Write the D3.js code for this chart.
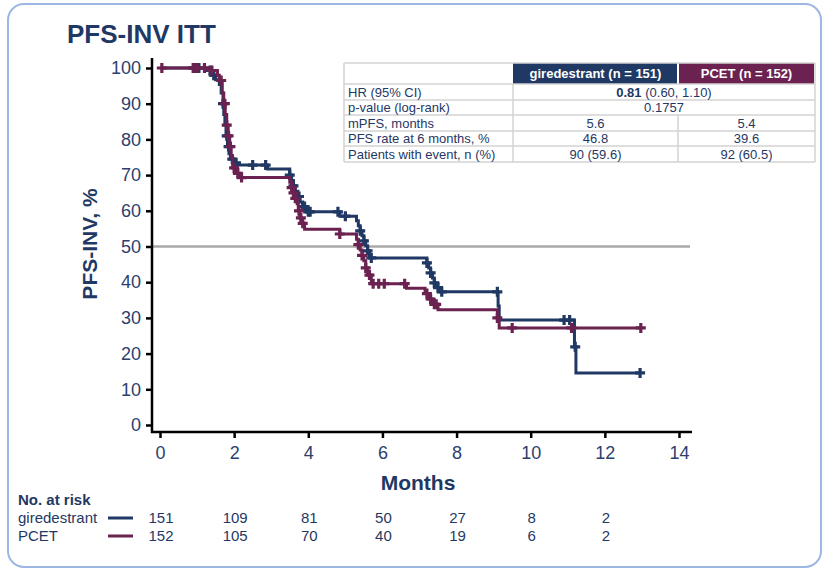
<!DOCTYPE html>
<html>
<head>
<meta charset="utf-8">
<script src="https://cdn.jsdelivr.net/npm/d3@7"></script>
<style>
  body { margin: 0; background: #fff; }
  svg { display: block; font-family: "Liberation Sans", Arial, sans-serif; }
</style>
</head>
<body>
<script>
// PFS-INV ITT Kaplan-Meier chart

// step points [months, % event-free]
var giredSteps = [[0,100],[1.25,99.3],[1.4,98],[1.5,96.7],[1.6,95.4],[1.65,93],[1.7,90],[1.72,87],[1.75,84],
  [1.78,81],[1.82,78],[1.86,76],[1.9,74.5],[2.0,73.4],[2.1,72.8],[2.9,71.7],[3.5,70],[3.55,68.5],[3.6,67],
  [3.65,65.5],[3.72,64],[3.78,62.5],[3.85,61.2],[3.95,59.7],[4.85,58.5],[5.3,57.2],[5.35,55.8],[5.4,54.4],
  [5.45,53],[5.5,51.6],[5.55,50.2],[5.6,48.8],[5.65,46.8],[7.2,45.4],[7.25,44],[7.3,42.6],[7.35,41.2],
  [7.4,39.8],[7.45,38.5],[7.55,37.3],[9.12,33.3],[9.15,29.4],[11.18,21.9],[11.22,14.6],[12.95,14.6]];
var pcetSteps = [[0,100],[1.3,99.3],[1.55,98],[1.6,96.5],[1.68,93],[1.72,90],[1.76,87],[1.8,84],[1.84,81],
  [1.88,78],[1.92,75],[1.96,72],[2.05,70.5],[2.15,69.3],[3.5,68],[3.55,66.5],[3.6,65],[3.65,63.5],[3.7,62],
  [3.73,60],[3.77,58],[3.82,56.5],[3.9,54.8],[4.85,53.5],[5.3,52],[5.35,50.5],[5.4,49],[5.45,47.5],[5.5,46],
  [5.55,44],[5.6,42],[5.7,39.6],[6.65,38.3],[7.15,36.8],[7.25,35.3],[7.35,33.8],[7.5,32.3],[9.1,30],
  [9.15,27.2],[12.97,27.2]];

// censor times (months)
var giredCensor = [0.9,1.0,1.05,1.35,1.45,1.7,1.8,1.85,1.95,2.05,2.5,2.85,3.5,3.6,3.75,3.85,3.9,4.0,4.05,
  4.8,5.0,5.4,5.5,5.6,5.7,7.2,7.3,7.4,7.5,7.6,9.1,10.9,11.05,11.2,12.95];
var pcetCensor = [0.05,0.9,0.95,1.0,1.2,1.4,1.65,1.75,1.8,1.85,1.9,2.0,2.1,2.2,3.55,3.6,3.65,3.75,3.8,3.85,
  4.85,5.35,5.45,5.55,5.65,5.75,5.9,6.05,6.6,7.2,7.3,7.4,7.45,9.1,9.5,11.1,12.97];

var xTicks = [0,2,4,6,8,10,12,14];
var yTicks = [0,10,20,30,40,50,60,70,80,90,100];

var riskTimes = [0,2,4,6,8,10,12];
var riskGired = [151,109,81,50,27,8,2];
var riskPcet = [152,105,70,40,19,6,2];

var tableHead = ["", "giredestrant (n = 151)", "PCET (n = 152)"];
var tableRows = [
  ["HR (95% CI)", "0.81|(0.60, 1.10)"],
  ["p-value (log-rank)", "0.1757"],
  ["mPFS, months", "5.6", "5.4"],
  ["PFS rate at 6 months, %", "46.8", "39.6"],
  ["Patients with event, n (%)", "90 (59.6)", "92 (60.5)"]
];

var navy = "#1f3864", plum = "#6b2250", textCol = "#2c3f6e";

var width = 825, height = 572;
var svg = d3.select("body").append("svg").attr("width", width).attr("height", height);

// rounded frame
svg.append("rect").attr("x", 8).attr("y", 4).attr("width", 813).attr("height", 563)
  .attr("rx", 16).attr("fill", "none").attr("stroke", "#9db6e2").attr("stroke-width", 2);

svg.append("text").attr("x", 67).attr("y", 43).text("PFS-INV ITT")
  .attr("font-size", 26).attr("font-weight", "bold").attr("fill", navy);

var x = d3.scaleLinear().domain([0, 14]).range([160, 679]);
var y = d3.scaleLinear().domain([0, 100]).range([425, 68]);

// 50% reference line
svg.append("line").attr("x1", 152).attr("x2", 690).attr("y1", y(50)).attr("y2", y(50))
  .attr("stroke", "#a9a9a9").attr("stroke-width", 2.5);

// axes
var yAxis = svg.append("g").attr("transform", "translate(152,0)")
  .call(d3.axisLeft(y).tickValues(yTicks).tickSize(6).tickPadding(5));
yAxis.select(".domain").remove();
yAxis.append("line").attr("x1", 0).attr("x2", 0).attr("y1", 58).attr("y2", 433)
  .attr("stroke", "#000").attr("stroke-width", 2.5);

var xAxis = svg.append("g").attr("transform", "translate(0,432)")
  .call(d3.axisBottom(x).tickValues(xTicks).tickSize(6).tickPadding(8));
xAxis.select(".domain").remove();
xAxis.append("line").attr("x1", 151).attr("x2", 692).attr("y1", 0).attr("y2", 0)
  .attr("stroke", "#000").attr("stroke-width", 2.5);

[yAxis, xAxis].forEach(function(g) {
  g.selectAll(".tick line").attr("stroke", "#000").attr("stroke-width", 2.5);
  g.selectAll(".tick text").attr("font-size", 18).attr("fill", textCol)
    .attr("font-family", "Liberation Sans, Arial, sans-serif");
});

svg.append("text").attr("x", 418).attr("y", 490).attr("text-anchor", "middle").text("Months")
  .attr("font-size", 21).attr("font-weight", "bold").attr("fill", navy);
svg.append("text").attr("transform", "translate(97,244) rotate(-90)").attr("text-anchor", "middle")
  .text("PFS-INV, %").attr("font-size", 21).attr("font-weight", "bold").attr("fill", navy);

// survival value at time t from a step list
function survAt(steps, t) {
  var v = steps[0][1];
  steps.forEach(function(s) { if (s[0] <= t) v = s[1]; });
  return v;
}

var line = d3.line().x(function(d) { return x(d[0]); }).y(function(d) { return y(d[1]); })
  .curve(d3.curveStepAfter);

function drawArm(steps, censor, col) {
  var g = svg.append("g");
  g.append("path").datum(steps).attr("d", line).attr("fill", "none")
    .attr("stroke", col).attr("stroke-width", 3);
  g.selectAll("path.cens").data(censor).enter().append("path").attr("class", "cens")
    .attr("d", function(t) {
      var cx = x(t), cy = y(survAt(steps, t)), s = 5;
      return "M" + (cx - s) + "," + cy + "H" + (cx + s) + "M" + cx + "," + (cy - s) + "V" + (cy + s);
    })
    .attr("stroke", col).attr("stroke-width", 3.2).attr("fill", "none");
}
drawArm(giredSteps, giredCensor, navy);
drawArm(pcetSteps, pcetCensor, plum);

// table
var colX = [344, 513, 678, 815];
var rowY = [63, 84, 100, 115, 131, 146, 162];
var tg = svg.append("g").attr("font-size", 13).attr("fill", navy);
tg.append("rect").attr("x", colX[1]).attr("y", rowY[0]).attr("width", colX[2] - colX[1] - 1)
  .attr("height", rowY[1] - rowY[0]).attr("fill", navy);
tg.append("rect").attr("x", colX[2] + 1).attr("y", rowY[0]).attr("width", colX[3] - colX[2] - 2)
  .attr("height", rowY[1] - rowY[0]).attr("fill", plum);
var bc = "#d3d3d3";
rowY.forEach(function(ry) {
  tg.append("line").attr("x1", colX[0]).attr("x2", colX[3]).attr("y1", ry).attr("y2", ry)
    .attr("stroke", bc).attr("stroke-width", 1.5);
});
tg.append("line").attr("x1", colX[0]).attr("x2", colX[0]).attr("y1", rowY[0]).attr("y2", rowY[6])
  .attr("stroke", bc).attr("stroke-width", 1.5);
tg.append("line").attr("x1", colX[3]).attr("x2", colX[3]).attr("y1", rowY[0]).attr("y2", rowY[6])
  .attr("stroke", bc).attr("stroke-width", 1.5);
tg.append("line").attr("x1", colX[1]).attr("x2", colX[1]).attr("y1", rowY[1]).attr("y2", rowY[6])
  .attr("stroke", bc).attr("stroke-width", 1.5);
tg.append("line").attr("x1", colX[2]).attr("x2", colX[2]).attr("y1", rowY[3]).attr("y2", rowY[6])
  .attr("stroke", bc).attr("stroke-width", 1.5);

tableHead.forEach(function(h, i) {
  if (!h) return;
  tg.append("text").attr("x", (colX[i] + colX[i + 1]) / 2).attr("y", rowY[1] - 6)
    .attr("text-anchor", "middle").attr("fill", "#fff").attr("font-weight", "bold").text(h);
});
tableRows.forEach(function(r, i) {
  var by = rowY[i + 2] - 3.5;
  tg.append("text").attr("x", colX[0] + 4).attr("y", by).text(r[0]);
  if (r.length === 2) {
    var t = tg.append("text").attr("x", (colX[1] + colX[3]) / 2).attr("y", by).attr("text-anchor", "middle");
    var parts = r[1].split("|");
    if (parts.length === 2) {
      t.append("tspan").attr("font-weight", "bold").text(parts[0]);
      t.append("tspan").text(" " + parts[1]);
    } else t.text(parts[0]);
  } else {
    tg.append("text").attr("x", (colX[1] + colX[2]) / 2).attr("y", by).attr("text-anchor", "middle").text(r[1]);
    tg.append("text").attr("x", (colX[2] + colX[3]) / 2).attr("y", by).attr("text-anchor", "middle").text(r[2]);
  }
});

// number at risk
var rg = svg.append("g").attr("font-size", 15).attr("fill", navy);
rg.append("text").attr("x", 18).attr("y", 505).attr("font-weight", "bold").text("No. at risk");
[["giredestrant", riskGired, navy, 523], ["PCET", riskPcet, plum, 541]].forEach(function(a) {
  rg.append("text").attr("x", 18).attr("y", a[3]).text(a[0]);
  rg.append("line").attr("x1", 108).attr("x2", 133).attr("y1", a[3] - 5).attr("y2", a[3] - 5)
    .attr("stroke", a[2]).attr("stroke-width", 3);
  rg.selectAll(null).data(a[1]).enter().append("text")
    .attr("x", function(d, i) { return x(riskTimes[i]) + 1; }).attr("y", a[3])
    .attr("text-anchor", "middle").text(function(d) { return d; });
});
</script>
</body>
</html>
